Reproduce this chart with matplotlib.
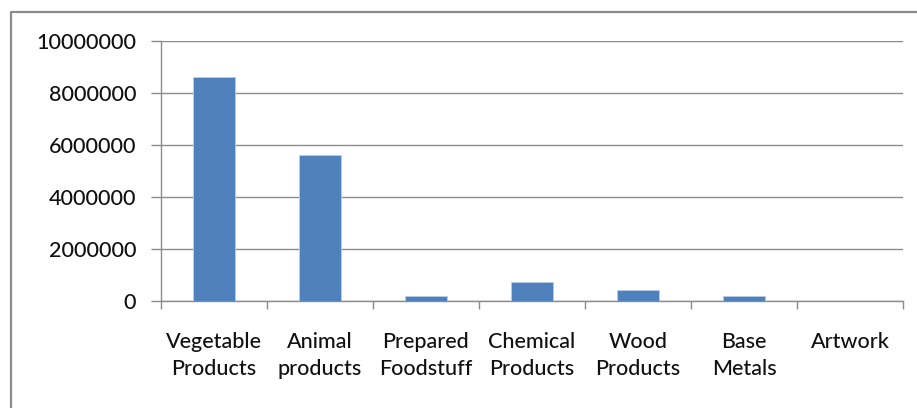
import matplotlib
matplotlib.use("Agg")
import matplotlib.pyplot as plt
from matplotlib.lines import Line2D
import numpy as np

categories = ["Vegetable\nProducts", "Animal\nproducts", "Prepared\nFoodstuff",
              "Chemical\nProducts", "Wood\nProducts", "Base\nMetals", "Artwork"]
values = [8600000, 5600000, 200000, 750000, 420000, 200000, 0]
yticks = [0, 2000000, 4000000, 6000000, 8000000, 10000000]

plt.rcParams['font.family'] = ['Lato', 'DejaVu Sans']

fig = plt.figure(figsize=(9.17, 4.08), dpi=100)
ax = fig.add_axes([161/917, 1 - 301/408, (903-161)/917, (301-41)/408])

x = np.arange(len(categories))
ax.bar(x, values, width=0.4, color="#4f81bd", edgecolor="#b9cde5", linewidth=0.6, zorder=3)

ax.set_xlim(-0.5, len(categories) - 0.5)
ax.set_ylim(0, 10000000)
ax.set_yticks(yticks)
ax.set_yticklabels([str(v) for v in yticks], fontsize=15.5, color="#111111",
                   fontweight="medium")
ax.yaxis.grid(True, color="#8c8c8c", linewidth=1.0, zorder=0)

ax.set_xticks(x)
ax.set_xticklabels(categories, fontsize=15.5, color="#111111", linespacing=1.45,
                   fontweight="medium")
ax.set_xticks(np.arange(-0.5, len(categories)), minor=True)
ax.tick_params(axis="x", which="major", length=0, pad=22)
ax.tick_params(axis="x", which="minor", length=6, color="#8c8c8c", width=1)
ax.tick_params(axis="y", length=7, color="#8c8c8c", width=1, pad=11)

for side in ["top", "right"]:
    ax.spines[side].set_visible(False)
for side in ["left", "bottom"]:
    ax.spines[side].set_color("#8c8c8c")
    ax.spines[side].set_linewidth(1.0)

# outer chart frame: left and top edges
frame_x = [11/917, 11/917, 1.01]
frame_y = [-0.01, 1 - 12/408, 1 - 12/408]
fig.lines.append(Line2D(frame_x, frame_y, transform=fig.transFigure,
                        color="#8c8c8c", linewidth=1.6))

fig.savefig("out.png", dpi=100)
